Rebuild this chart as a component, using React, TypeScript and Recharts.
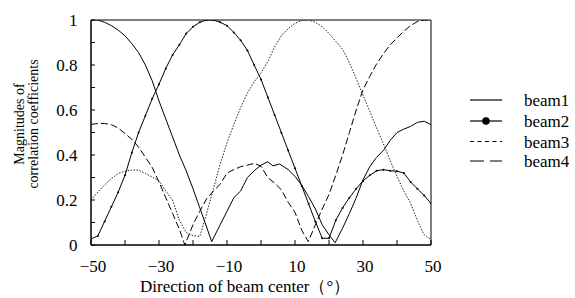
import React from 'react';
import { ComposedChart, Line, XAxis, YAxis, ReferenceArea, Legend } from 'recharts';

// ---- data ----
const beam1Angles = [-50, -48, -46, -44, -42, -40, -38, -36, -34, -32, -30, -28, -26, -24, -22, -20, -18, -16, -14.5, -12, -10, -8, -6, -4, -2, 0, 2, 3.5, 5.5, 8, 10, 12, 14, 16, 18, 20, 21.8, 24, 26, 28, 30, 32, 34, 36, 38, 40, 42, 44, 46, 48, 50];
const beam1Values = [1.0, 1.0, 0.99, 0.975, 0.955, 0.93, 0.895, 0.855, 0.8, 0.73, 0.64, 0.56, 0.48, 0.4, 0.33, 0.25, 0.165, 0.08, 0.015, 0.09, 0.15, 0.21, 0.24, 0.3, 0.33, 0.355, 0.37, 0.352, 0.36, 0.335, 0.305, 0.265, 0.215, 0.16, 0.09, 0.045, 0.01, 0.075, 0.14, 0.21, 0.29, 0.348, 0.39, 0.42, 0.465, 0.5, 0.515, 0.527, 0.545, 0.55, 0.535];

const beam2Angles = [-50, -48, -46, -44, -42, -40, -38, -36, -34, -32, -30, -28, -26, -24, -22, -20, -18, -16, -14, -12, -10, -8, -6, -4, -2, 0, 2, 4, 6, 8, 10, 12, 14, 16, 18, 20, 22, 24, 26, 28, 30, 32, 34, 36, 38, 40, 42, 44, 46, 48, 50];
const beam2Values = [0.027, 0.04, 0.105, 0.17, 0.235, 0.31, 0.41, 0.5, 0.575, 0.65, 0.715, 0.785, 0.845, 0.89, 0.94, 0.97, 0.99, 1.0, 1.0, 0.99, 0.975, 0.945, 0.91, 0.865, 0.8, 0.736, 0.657, 0.578, 0.499, 0.42, 0.341, 0.262, 0.183, 0.104, 0.03, 0.03, 0.11, 0.165, 0.21, 0.25, 0.285, 0.31, 0.33, 0.335, 0.33, 0.328, 0.32, 0.28, 0.25, 0.22, 0.185];

const beam3Angles = [-50, -48, -46, -44, -42, -40, -38, -36, -34, -32, -30, -28, -26, -24, -22, -20, -18, -16, -14, -12, -10, -8, -6, -4, -2, 0, 2, 4, 6, 8, 10, 12, 14, 16, 18, 20, 22, 24, 26, 28, 30, 32, 34, 36, 38, 40, 42, 44, 46, 48, 50];
const beam3Values = [0.2, 0.235, 0.267, 0.295, 0.318, 0.328, 0.333, 0.333, 0.318, 0.302, 0.285, 0.24, 0.2, 0.11, 0.055, 0.042, 0.038, 0.14, 0.25, 0.36, 0.455, 0.535, 0.61, 0.675, 0.725, 0.765, 0.815, 0.88, 0.93, 0.962, 0.985, 0.998, 1.0, 0.99, 0.97, 0.94, 0.905, 0.87, 0.81, 0.74, 0.665, 0.595, 0.52, 0.45, 0.375, 0.305, 0.24, 0.185, 0.11, 0.045, 0.025];

const beam4Angles = [-50, -48, -46, -44, -42, -40, -38, -36, -34, -32, -30, -28, -26, -24, -22.4, -20, -18, -16, -14, -12, -10, -8, -6, -4, -2, 0, 2, 4, 6, 8, 10, 12, 13.9, 16, 18, 20, 22, 24, 26, 28, 30, 32, 34, 36, 38, 40, 42, 44, 46, 48, 50];
const beam4Values = [0.536, 0.54, 0.54, 0.535, 0.52, 0.495, 0.47, 0.435, 0.39, 0.345, 0.28, 0.21, 0.14, 0.07, 0.0, 0.09, 0.15, 0.205, 0.24, 0.27, 0.32, 0.335, 0.348, 0.355, 0.363, 0.35, 0.3, 0.275, 0.245, 0.19, 0.145, 0.065, 0.015, 0.09, 0.16, 0.225, 0.31, 0.4, 0.5, 0.6, 0.69, 0.75, 0.805, 0.85, 0.89, 0.92, 0.95, 0.975, 0.993, 1.0, 1.0];

const seriesNames = ['beam1', 'beam2', 'beam3', 'beam4'];
const xTicks = [-50, -40, -30, -20, -10, 0, 10, 20, 30, 40, 50];
const xTickLabels = [-50, -30, -10, 10, 30, 50];
const yTicks = [0, 0.1, 0.2, 0.3, 0.4, 0.5, 0.6, 0.7, 0.8, 0.9, 1];
const yTickLabels = [0, 0.2, 0.4, 0.6, 0.8, 1];
const xTitle = 'Direction of beam center（°）';
const yTitleLines = ['Magnitudes of', 'correlation coefficients'];

const toPoints = (angles: number[], values: number[]) =>
  angles.map((a, i) => ({ angle: a, value: values[i] }));

const beam1Data = toPoints(beam1Angles, beam1Values);
const beam2Data = toPoints(beam2Angles, beam2Values);
const beam3Data = toPoints(beam3Angles, beam3Values);
const beam4Data = toPoints(beam4Angles, beam4Values);

const FONT = '"Liberation Serif", "Times New Roman", Times, serif';
const txt = (size: number): React.CSSProperties => ({ fontFamily: FONT, fontSize: size, fill: '#000' });

const fmtX = (v: number) => (v < 0 ? '\u2212' + Math.abs(v) : String(v));

const XTick = (props: any) => {
  const { x, y, payload } = props;
  const v = payload.value;
  const show = xTickLabels.includes(v);
  return (
    <g>
      <line x1={x} x2={x} y1={y} y2={y - 5} stroke="#000" strokeWidth={1} />
      {show && (
        <text x={x + 2} y={y + 27} textAnchor="middle" style={txt(17)}>
          {fmtX(v)}
        </text>
      )}
    </g>
  );
};

const YTick = (props: any) => {
  const { x, y, payload } = props;
  const v = payload.value;
  const show = yTickLabels.some((t) => Math.abs(t - v) < 1e-9);
  return (
    <g>
      <line x1={x} x2={x + 4} y1={y} y2={y} stroke="#000" strokeWidth={1} />
      {show && (
        <text x={x - 13.5} y={y + 6} textAnchor="end" style={txt(17)}>
          {String(Math.round(v * 10) / 10)}
        </text>
      )}
    </g>
  );
};

const XTitle = () => (
  <text x={140} y={292} style={txt(17)}>
    {xTitle}
  </text>
);

const YTitle = () => (
  <g>
    <text transform="translate(24, 124) rotate(-90)" textAnchor="middle" style={txt(14)}>
      {yTitleLines[0]}
    </text>
    <text transform="translate(37.5, 124) rotate(-90)" textAnchor="middle" style={txt(14)}>
      {yTitleLines[1]}
    </text>
  </g>
);

const styles: Record<string, { dash?: string; dot?: boolean }> = {
  beam1: {},
  beam2: { dot: true },
  beam3: { dash: '4 3.5' },
  beam4: { dash: '14 6' },
};

const LegendContent = () => {
  const rowY = [12, 33, 53.5, 73];
  return (
    <svg width={110} height={86} style={{ display: 'block' }}>
      {seriesNames.map((name, i) => {
        const st = styles[name];
        return (
          <g key={name}>
            <line x1={8} x2={40} y1={rowY[i]} y2={rowY[i]} stroke="#000" strokeWidth={1.2} strokeDasharray={st.dash} />
            {st.dot && <circle cx={24} cy={rowY[i]} r={3.8} fill="#000" />}
            <text x={62} y={rowY[i] + 6} style={txt(17)}>
              {name}
            </text>
          </g>
        );
      })}
    </svg>
  );
};

export default function App() {
  return (
    <div style={{ position: 'absolute', left: 0, top: 0, background: '#fff' }}>
      <ComposedChart width={575} height={298} margin={{ top: 20, right: 144, bottom: 0, left: 0 }}>
        <XAxis
          type="number"
          dataKey="angle"
          domain={[-50, 50]}
          ticks={xTicks}
          interval={0}
          tickSize={0}
          tickMargin={0}
          tick={<XTick />}
          axisLine={{ stroke: '#000' }}
          tickLine={false}
          height={53}
          allowDataOverflow
          label={<XTitle />}
        />
        <YAxis
          type="number"
          domain={[0, 1]}
          ticks={yTicks}
          interval={0}
          tickSize={0}
          tickMargin={0}
          tick={<YTick />}
          axisLine={{ stroke: '#000' }}
          tickLine={false}
          width={91}
          allowDataOverflow
          label={<YTitle />}
        />
        <Legend
          layout="vertical"
          align="center"
          verticalAlign="middle"
          content={<LegendContent />}
          wrapperStyle={{ left: 462, top: 88, width: 110, height: 86 }}
        />
        <Line data={beam1Data} dataKey="value" name="beam1" type="linear" stroke="#000" strokeWidth={1} dot={false} activeDot={false} isAnimationActive={false} />
        <Line data={beam2Data} dataKey="value" name="beam2" type="linear" stroke="#000" strokeWidth={1} dot={{ r: 1, fill: '#000', stroke: 'none' }} activeDot={false} isAnimationActive={false} />
        <Line data={beam3Data} dataKey="value" name="beam3" type="linear" stroke="#222" strokeWidth={1} strokeDasharray="1.5 1.5" dot={false} activeDot={false} isAnimationActive={false} />
        <Line data={beam4Data} dataKey="value" name="beam4" type="linear" stroke="#000" strokeWidth={1} strokeDasharray="7 3" dot={false} activeDot={false} isAnimationActive={false} />
        <ReferenceArea x1={-50} x2={50} y1={0} y2={1} fill="none" stroke="#000" strokeWidth={1} ifOverflow="visible" />
      </ComposedChart>
    </div>
  );
}
